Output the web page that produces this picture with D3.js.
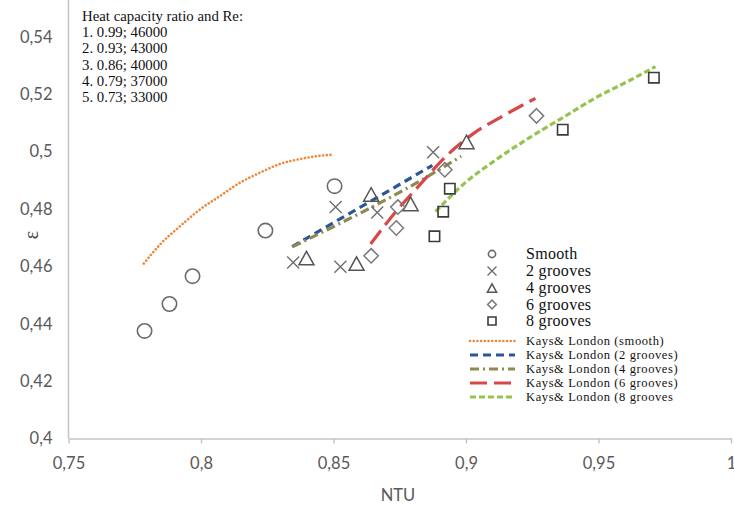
<!DOCTYPE html>
<html>
<head>
<meta charset="utf-8">
<script src="https://cdn.jsdelivr.net/npm/d3@7"></script>
<style>
  html, body { margin: 0; padding: 0; background: #ffffff; }
  svg { display: block; }
</style>
</head>
<body>
<svg id="chart" width="734" height="508"></svg>
<script>
// Axis ticks
const xTicks = [0.75, 0.8, 0.85, 0.9, 0.95, 1];
const yTicks = [0.4, 0.42, 0.44, 0.46, 0.48, 0.5, 0.52, 0.54];

// Measured effectiveness vs NTU
const smooth   = [[0.7787, 0.4375], [0.7881, 0.4469], [0.7968, 0.4566], [0.8243, 0.4725], [0.8504, 0.4880]];
const grooves2 = [[0.8348, 0.4614], [0.8526, 0.4599], [0.8508, 0.4807], [0.8665, 0.4788], [0.8876, 0.4998]];
const grooves4 = [[0.8398, 0.4629], [0.8587, 0.4610], [0.8642, 0.4851], [0.8791, 0.4818], [0.9002, 0.5034]];
const grooves6 = [[0.8642, 0.4637], [0.8737, 0.4734], [0.8743, 0.4807], [0.8920, 0.4937], [0.9266, 0.5125]];
const grooves8 = [[0.8881, 0.4705], [0.8914, 0.4791], [0.8939, 0.4871], [0.9365, 0.5077], [0.9709, 0.5258]];

// Kays & London correlation curves
const klSmooth = [[0.7784, 0.4610], [0.7847, 0.4678], [0.7923, 0.4742], [0.7998, 0.4800], [0.8074, 0.4847],
                  [0.8149, 0.4893], [0.8225, 0.4928], [0.8300, 0.4958], [0.8377, 0.4975], [0.8451, 0.4986], [0.8501, 0.4990]];
const kl2 = [[0.8344, 0.4669], [0.8600, 0.4806], [0.8873, 0.4952]];
const kl4 = [[0.8346, 0.4669], [0.8854, 0.4913], [0.8982, 0.4984]];
const kl6 = [[0.8640, 0.4678], [0.8728, 0.4783], [0.8828, 0.4887], [0.8929, 0.4988], [0.9029, 0.5064], [0.9130, 0.5120], [0.9262, 0.5186]];
const kl8 = [[0.8885, 0.4791], [0.8992, 0.4888], [0.9118, 0.4975], [0.9243, 0.5051], [0.9369, 0.5121], [0.9495, 0.5191], [0.9621, 0.5250], [0.9715, 0.5297]];

// Legend texts
const noteLines = ["Heat capacity ratio and Re:", "1. 0.99; 46000", "2. 0.93; 43000", "3. 0.86; 40000", "4. 0.79; 37000", "5. 0.73; 33000"];
const markerNames = ["Smooth", "2 grooves", "4 grooves", "6 grooves", "8 grooves"];
const lineNames = ["Kays& London (smooth)", "Kays& London (2 grooves)", "Kays& London (4 grooves)", "Kays& London (6 grooves)", "Kays& London (8 grooves"];

const svg = d3.select("#chart");
const x = d3.scaleLinear().domain([0.75, 1]).range([68.5, 731]);
const y = d3.scaleLinear().domain([0.4, 0.54]).range([438.5, 37]);

const locale = d3.formatLocale({ decimal: ",", thousands: " ", grouping: [3], currency: ["", ""] });
const fmt = locale.format(".2~f");

const axisColor = "#c4c4c4";
const labelColor = "#595959";
const tickFont = "Lato, 'Open Sans', sans-serif";
const serif = "'Liberation Serif', 'Times New Roman', serif";

// X axis
const gx = svg.append("g").attr("transform", `translate(0,${y(0.4)})`)
  .call(d3.axisBottom(x).tickValues(xTicks).tickFormat(fmt).tickSize(5).tickSizeOuter(0).tickPadding(13.5));
gx.select(".domain").attr("stroke", axisColor).attr("stroke-width", 1.5);
gx.selectAll(".tick line").attr("stroke", axisColor).attr("stroke-width", 1.5);
gx.selectAll(".tick text").attr("fill", labelColor).style("font-family", tickFont).style("font-size", "16.5px");

// Y axis
const gy = svg.append("g").attr("transform", `translate(${x(0.75)},0)`)
  .call(d3.axisLeft(y).tickValues(yTicks).tickFormat(fmt).tickSize(0).tickPadding(16));
gy.select(".domain").remove();
gy.selectAll(".tick text").attr("fill", labelColor).style("font-family", tickFont).style("font-size", "16.5px");
svg.append("line")
  .attr("x1", x(0.75)).attr("x2", x(0.75)).attr("y1", 0).attr("y2", y(0.4))
  .attr("stroke", axisColor).attr("stroke-width", 1.5);

// Axis titles
svg.append("text").attr("x", 398).attr("y", 501).attr("text-anchor", "middle")
  .attr("fill", labelColor).style("font-family", tickFont).style("font-size", "16.5px").text("NTU");
svg.append("text").attr("transform", "translate(38,235) rotate(-90)").attr("text-anchor", "middle")
  .attr("fill", "#404040").style("font-family", serif).style("font-size", "20px").text("ε");

// Correlation curves
const line = d3.line().x(d => x(d[0])).y(d => y(d[1])).curve(d3.curveMonotoneX);
const curveStyles = [
  { data: klSmooth, color: "#f0883a", width: 2.6, dash: "0.1 3.6", cap: "round" },
  { data: kl2,      color: "#2a5798", width: 3.2, dash: "8 5",     cap: "butt" },
  { data: kl4,      color: "#8e8a50", width: 3.2, dash: "9 4 2 4", cap: "butt" },
  { data: kl6,      color: "#d94848", width: 3.2, dash: "17 7",    cap: "butt" },
  { data: kl8,      color: "#96c34c", width: 3.2, dash: "6 3",     cap: "butt" }
];
curveStyles.forEach(s => {
  svg.append("path").attr("d", line(s.data)).attr("fill", "none")
    .attr("stroke", s.color).attr("stroke-width", s.width)
    .attr("stroke-dasharray", s.dash).attr("stroke-linecap", s.cap);
});

// Marker shapes centred on (0,0)
const shapes = {
  circle:   r => `M${-r},0A${r},${r} 0 1,0 ${r},0A${r},${r} 0 1,0 ${-r},0Z`,
  cross:    r => `M${-r},${-r}L${r},${r}M${-r},${r}L${r},${-r}`,
  triangle: r => `M0,${-r * 0.9}L${r},${r * 0.9}L${-r},${r * 0.9}Z`,
  diamond:  r => `M0,${-r}L${r},0L0,${r}L${-r},0Z`,
  square:   r => `M${-r},${-r}H${r}V${r}H${-r}Z`
};
const markerStyles = [
  { data: smooth,   shape: "circle",   size: 7.2, legend: 3.6, color: "#6a6a6a", width: 1.6 },
  { data: grooves2, shape: "cross",    size: 6,   legend: 4.5, color: "#6e6e6e", width: 1.4 },
  { data: grooves4, shape: "triangle", size: 7.5, legend: 4.6, color: "#555555", width: 1.5 },
  { data: grooves6, shape: "diamond",  size: 7.2, legend: 4.4, color: "#7a7a7a", width: 1.5 },
  { data: grooves8, shape: "square",   size: 5.2, legend: 4,   color: "#3c3c3c", width: 1.6 }
];
markerStyles.forEach(s => {
  svg.append("g").selectAll("path").data(s.data).join("path")
    .attr("transform", d => `translate(${x(d[0])},${y(d[1])})`)
    .attr("d", shapes[s.shape](s.size))
    .attr("fill", "none").attr("stroke", s.color).attr("stroke-width", s.width);
});

// Note block, top left
const note = svg.append("text").attr("x", 82).attr("y", 21)
  .attr("fill", "#111").style("font-family", serif).style("font-size", "14.8px");
noteLines.forEach((t, i) => note.append("tspan").attr("x", 82).attr("dy", i === 0 ? 0 : 16.2).text(t));

// Legend: markers
const legMarkerY = [254, 271, 288, 304.5, 321];
markerStyles.forEach((s, i) => {
  svg.append("path").attr("transform", `translate(492,${legMarkerY[i]})`)
    .attr("d", shapes[s.shape](s.legend))
    .attr("fill", "none").attr("stroke", s.color).attr("stroke-width", s.width);
  svg.append("text").attr("x", 526).attr("y", legMarkerY[i]).attr("dy", "0.33em")
    .attr("fill", "#111").style("font-family", serif).style("font-size", "16px")
    .style("letter-spacing", "0.3px")
    .text(markerNames[i]);
});

// Legend: curves
const legLineY = [341, 355, 369, 383, 397];
curveStyles.forEach((s, i) => {
  svg.append("line").attr("x1", 470).attr("x2", 515).attr("y1", legLineY[i]).attr("y2", legLineY[i])
    .attr("stroke", s.color).attr("stroke-width", s.width)
    .attr("stroke-dasharray", s.dash).attr("stroke-linecap", s.cap);
  svg.append("text").attr("x", 526).attr("y", legLineY[i]).attr("dy", "0.33em")
    .attr("fill", "#111").style("font-family", serif).style("font-size", "12.5px")
    .style("letter-spacing", "0.6px")
    .text(lineNames[i]);
});
</script>
</body>
</html>
